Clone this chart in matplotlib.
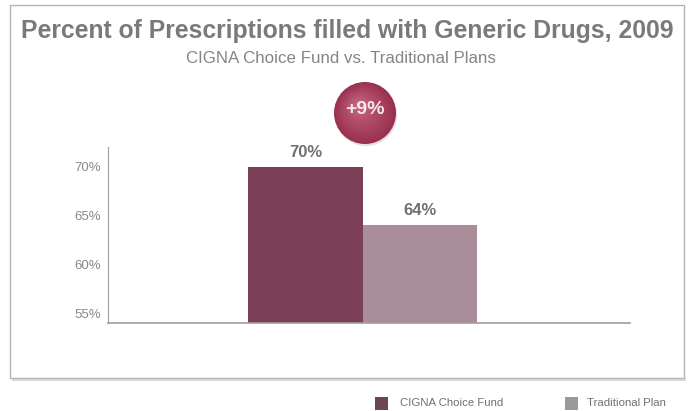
import matplotlib.pyplot as plt
from matplotlib.patches import Rectangle, Ellipse

# data
plans = ['CIGNA Choice Fund', 'Traditional Plan']
generic_pct = [70, 64]
value_labels = ['70%', '64%']
y_ticks = [55, 60, 65, 70]
y_tick_labels = ['55%', '60%', '65%', '70%']
diff_label = '+9%'

bar_colors = ['#7b3f57', '#a98e99']
legend_colors = ['#6c4650', '#9a9a9a']

plt.rcParams['font.family'] = ['Liberation Sans', 'DejaVu Sans']

W, H = 688, 411
fig = plt.figure(figsize=(W / 100, H / 100), dpi=100)
fig.patch.set_facecolor('white')

def fx(px):
    return px / W

def fy(py):
    return 1 - py / H

# outer frame with soft bottom shadow
fig.add_artist(Rectangle((fx(12), fy(381)), fx(674), 3 / H, transform=fig.transFigure,
                         facecolor='#dcdcdc', edgecolor='none', zorder=0))
fig.add_artist(Rectangle((fx(10), fy(378)), fx(674), 373 / H, transform=fig.transFigure,
                         facecolor='white', edgecolor='#b5b5b5', linewidth=1.0, zorder=1))

fig.text(fx(347), fy(31), 'Percent of Prescriptions filled with Generic Drugs, 2009',
         ha='center', va='center', fontsize=17.8, fontweight='bold', color='#7a7a7a', zorder=3)
fig.text(fx(341), fy(58), 'CIGNA Choice Fund vs. Traditional Plans',
         ha='center', va='center', fontsize=12.2, color='#858585', zorder=3)

ax = fig.add_axes([fx(108), fy(323), fx(630) - fx(108), fy(147) - fy(323)], zorder=2)
ax.set_facecolor('none')
x = list(range(len(plans)))
bars = ax.bar(x, [v - 54 for v in generic_pct], bottom=54, width=1.0,
              color=bar_colors, edgecolor='none')
for xi, v, lab in zip(x, generic_pct, value_labels):
    ax.text(xi, v + 0.7, lab, ha='center', va='bottom', fontsize=12,
            fontweight='bold', color='#707070')

ax.set_xlim(-1.72, 2.83)
ax.set_ylim(54, 72)
ax.set_yticks(y_ticks)
ax.set_yticklabels(y_tick_labels, fontsize=9.5, color='#888888')
ax.set_xticks([])
ax.tick_params(axis='y', length=0, pad=5)
for s in ['top', 'right']:
    ax.spines[s].set_visible(False)
ax.spines['left'].set_color('#a0a0a0')
ax.spines['left'].set_linewidth(0.8)
ax.spines['bottom'].set_color('#a89aa0')
ax.spines['bottom'].set_linewidth(1.2)

# "+9%" bubble with a soft radial highlight
cx, cy, r = 365, 113, 31
fig.add_artist(Ellipse((fx(cx + 1), fy(cy + 2)), 2 * r / W, 2 * r / H, transform=fig.transFigure,
                       facecolor='#eadde2', edgecolor='none', zorder=4))
n = 14
c0 = (0.60, 0.19, 0.31)
c1 = (0.78, 0.40, 0.50)
for i in range(n):
    k = 1 - i / n
    t = i / (n - 1)
    col = tuple(a + (b - a) * t for a, b in zip(c0, c1))
    fig.add_artist(Ellipse((fx(cx - 8 * (1 - k)), fy(cy - 9 * (1 - k))), 2 * r * k / W, 2 * r * k / H,
                           transform=fig.transFigure, facecolor=col, edgecolor='none', zorder=5))
fig.text(fx(cx), fy(cy - 3), diff_label, ha='center', va='center', fontsize=14,
         fontweight='bold', color='#f4eaee', zorder=6)

# legend below frame
for (lx, tx), name, col in zip([(375, 400), (565, 587)], plans, legend_colors):
    fig.add_artist(Rectangle((fx(lx), fy(410)), 13 / W, 13 / H, transform=fig.transFigure,
                             facecolor=col, edgecolor='none'))
    fig.text(fx(tx), fy(403), name, ha='left', va='center', fontsize=8.2, color='#707070')

fig.savefig('out.png', dpi=100)
